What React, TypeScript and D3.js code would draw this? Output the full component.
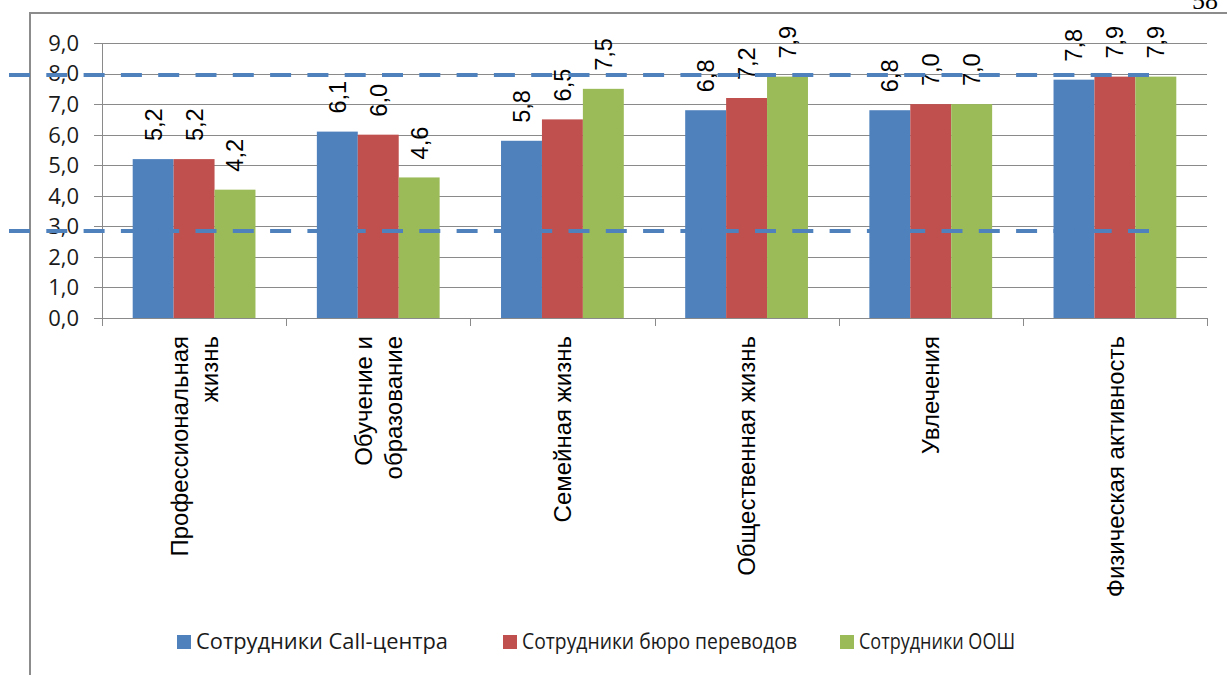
import React from "react";
import * as d3 from "d3";

const categories: string[][] = [
  ["Профессиональная", "жизнь"],
  ["Обучение и", "образование"],
  ["Семейная жизнь"],
  ["Общественная жизнь"],
  ["Увлечения"],
  ["Физическая активность"],
];
const seriesNames = [
  "Сотрудники Call-центра",
  "Сотрудники бюро переводов",
  "Сотрудники ООШ",
];
const callCenter = [5.2, 6.1, 5.8, 6.8, 6.8, 7.8];
const bureau = [5.2, 6.0, 6.5, 7.2, 7.0, 7.9];
const oosh = [4.2, 4.6, 7.5, 7.9, 7.0, 7.9];
const seriesValues = [callCenter, bureau, oosh];
const colors = ["#4F81BD", "#C0504D", "#9BBB59"];
const yTicks = [0, 1, 2, 3, 4, 5, 6, 7, 8, 9];
const referenceLevels = [7.95, 2.85];

const W = 1227;
const H = 675;
const plotLeft = 102;
const plotRight = 1207;
const plotTop = 43;
const plotBottom = 318;

const fmt = (v: number) => v.toFixed(1).replace(".", ",");

export default function App() {
  const catKeys = categories.map((c) => c.join(" "));
  const x = d3.scaleBand<string>().domain(catKeys).range([plotLeft, plotRight]);
  const bw = x.bandwidth();
  const barW = bw / 4.5;
  const x1 = d3
    .scaleBand<number>()
    .domain([0, 1, 2])
    .range([barW * 0.75, bw - barW * 0.75]);
  const y = d3.scaleLinear().domain([0, 9]).range([plotBottom, plotTop]);
  const grid = "#8a8a8a";
  const crisp = (v: number) => Math.round(v) + 0.5;

  const legendX = [177, 503, 840];
  const legendW = [252, 275, 156];

  return (
    <svg
      width={W}
      height={H}
      viewBox={`0 0 ${W} ${H}`}
      style={{ position: "absolute", left: 0, top: 0, background: "#fff" }}
    >
      <rect x={0} y={0} width={W} height={H} fill="#fff" />
      {/* page number */}
      <text
        x={1192}
        y={9}
        fontFamily="'Liberation Serif', serif"
        fontSize={26}
        fill="#000"
      >
        58
      </text>
      {/* chart frame */}
      <line x1={30} y1={13} x2={W} y2={13} stroke="#8c8c8c" strokeWidth={2} />
      <line x1={30} y1={12} x2={30} y2={H} stroke="#8c8c8c" strokeWidth={2} />

      {/* gridlines + y ticks */}
      {yTicks.map((t) => (
        <g key={t}>
          <line
            x1={94}
            x2={plotRight}
            y1={crisp(y(t))}
            y2={crisp(y(t))}
            stroke={grid}
            strokeWidth={1}
          />
          <text
            x={79}
            y={y(t)}
            dy="0.36em"
            textAnchor="end"
            fontFamily="'Open Sans', sans-serif"
            fontSize={22}
            fill="#1a1a1a"
          >
            {fmt(t)}
          </text>
        </g>
      ))}
      {/* y axis */}
      <line
        x1={crisp(plotLeft)}
        x2={crisp(plotLeft)}
        y1={plotTop}
        y2={plotBottom}
        stroke={grid}
        strokeWidth={1}
      />
      {/* x ticks */}
      {[...catKeys.map((c) => x(c) as number), plotRight].map((v, i) => (
        <line
          key={i}
          x1={crisp(v)}
          x2={crisp(v)}
          y1={plotBottom}
          y2={plotBottom + 8}
          stroke={grid}
          strokeWidth={1}
        />
      ))}

      {/* bars */}
      {catKeys.map((c, ci) =>
        seriesValues.map((vals, si) => {
          const bx = (x(c) as number) + (x1(si) as number);
          const by = y(vals[ci]);
          return (
            <rect
              key={`${ci}-${si}`}
              x={bx}
              y={by}
              width={x1.bandwidth()}
              height={plotBottom - by}
              fill={colors[si]}
            />
          );
        })
      )}

      {/* data labels */}
      {catKeys.map((c, ci) =>
        seriesValues.map((vals, si) => {
          const cx = (x(c) as number) + (x1(si) as number) + x1.bandwidth() / 2;
          const by = y(vals[ci]) - 18;
          return (
            <text
              key={`l${ci}-${si}`}
              transform={`translate(${cx},${by}) rotate(-90)`}
              dy="0.36em"
              textAnchor="start"
              fontFamily="'Liberation Sans', Arial, sans-serif"
              fontSize={23.5}
              fill="#000"
            >
              {fmt(vals[ci])}
            </text>
          );
        })
      )}

      {/* category labels */}
      {categories.map((lines, ci) => {
        const cx = (x(catKeys[ci]) as number) + bw / 2;
        const lh = 30;
        return lines.map((ln, li) => {
          const off = (li - (lines.length - 1) / 2) * lh;
          return (
            <text
              key={`c${ci}-${li}`}
              transform={`translate(${cx + off},336) rotate(-90)`}
              dy="0.36em"
              textAnchor="end"
              fontFamily="'Liberation Sans', Arial, sans-serif"
              fontSize={24}
              fill="#000"
            >
              {ln}
            </text>
          );
        });
      })}

      {/* reference dashed lines */}
      {referenceLevels.map((lv, i) => (
        <line
          key={`r${i}`}
          x1={9}
          x2={1151}
          y1={y(lv)}
          y2={y(lv)}
          stroke="#4F81BD"
          strokeWidth={4}
          strokeDasharray="21 16.3"
        />
      ))}

      {/* legend */}
      {seriesNames.map((n, i) => (
        <g key={`lg${i}`}>
          <rect x={legendX[i]} y={635} width={14} height={14} fill={colors[i]} />
          <text
            x={legendX[i] + 19}
            y={649}
            fontFamily="'Open Sans', sans-serif"
            fontSize={21.5}
            fill="#1a1a1a"
            textLength={legendW[i]}
            lengthAdjust="spacingAndGlyphs"
          >
            {n}
          </text>
        </g>
      ))}
    </svg>
  );
}
